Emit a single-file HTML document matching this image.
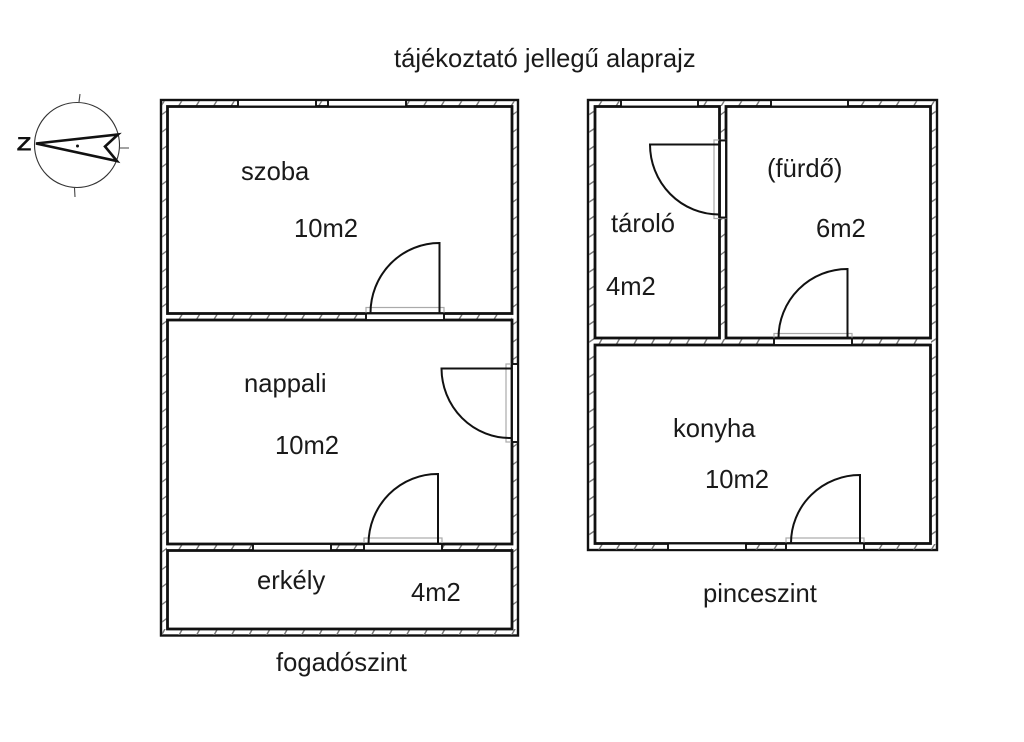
<!DOCTYPE html>
<html>
<head>
<meta charset="utf-8">
<style>
html,body{margin:0;padding:0;background:#fff;}
svg{display:block;}
text{font-family:"Liberation Sans",sans-serif;font-size:25.6px;fill:#1a1a1a;}
.room{fill:#fff;stroke:#111;stroke-width:2.8;}
.outer{stroke:#111;stroke-width:2.4;fill:#fff;}
.win{fill:#fff;stroke:#111;stroke-width:1.9;}
.gray{fill:none;stroke:#aaa;stroke-width:1.2;}
.door{fill:none;stroke:#111;stroke-width:2;}
</style>
</head>
<body>
<svg width="1024" height="742" viewBox="0 0 1024 742" xmlns="http://www.w3.org/2000/svg">
<defs>
<pattern id="hh" width="17.5" height="742" patternUnits="userSpaceOnUse">
<path d="M3 107L8 99M3 321L8 313M3 551L8 543M3 637L8 628M3 346L8 337" stroke="#777" stroke-width="1.4" fill="none"/>
</pattern>
<pattern id="hv" width="1024" height="17.5" patternUnits="userSpaceOnUse">
<path d="M160 11L168 5M511 11L519 5M587 11L596 5M719 11L727 5M929 11L938 5" stroke="#777" stroke-width="1.4" fill="none"/>
</pattern>
</defs>
<rect width="1024" height="742" fill="#fff"/>

<!-- left building -->
<rect class="outer" x="161" y="100" width="357" height="535.5"/>
<rect x="162" y="101" width="355" height="5" fill="url(#hh)"/>
<rect x="168" y="314" width="344" height="6" fill="url(#hh)"/>
<rect x="168" y="544" width="344" height="6" fill="url(#hh)"/>
<rect x="162" y="629" width="355" height="6" fill="url(#hh)"/>
<rect x="162" y="107" width="5" height="522" fill="url(#hv)"/>
<rect x="513" y="107" width="4" height="522" fill="url(#hv)"/>
<rect class="room" x="167.5" y="106.5" width="344.5" height="207"/>
<rect class="room" x="167.5" y="320" width="344.5" height="224"/>
<rect class="room" x="167.5" y="550.5" width="344.5" height="78.5"/>
<!-- windows -->
<rect class="win" x="238" y="100" width="78" height="6.5"/>
<rect class="win" x="328" y="100" width="78" height="6.5"/>
<rect class="win" x="253" y="544" width="78" height="6.5"/>
<!-- szoba door -->
<rect class="gray" x="366" y="307.5" width="78" height="12"/>
<rect class="win" x="366" y="313.5" width="78" height="6.5"/>
<path class="door" d="M370.500 313A69 70 0 0 1 439.500 243V313"/>
<!-- nappali bottom door -->
<rect class="gray" x="364" y="538" width="78" height="12"/>
<rect class="win" x="364" y="544" width="78" height="6.500"/>
<path class="door" d="M368.500 544A69 70 0 0 1 438 474V544"/>
<!-- nappali right door -->
<rect class="gray" x="506" y="364" width="12" height="78"/>
<rect class="win" x="512" y="364" width="6" height="78"/>
<path class="door" d="M511 368.500H441.500A69 70 0 0 0 511 438"/>

<!-- right building -->
<rect class="outer" x="588" y="100" width="349" height="450"/>
<rect x="589" y="101" width="347" height="5" fill="url(#hh)"/>
<rect x="589" y="544" width="347" height="5.500" fill="url(#hh)"/>
<rect x="589" y="107" width="5" height="437" fill="url(#hv)"/>
<rect x="931" y="107" width="5" height="437" fill="url(#hv)"/>
<rect x="720" y="107" width="6" height="231" fill="url(#hv)"/>
<rect x="595" y="339" width="335" height="6" fill="url(#hh)"/>
<rect class="room" x="595" y="106.500" width="124.500" height="231.500"/>
<rect class="room" x="726" y="106.500" width="204.500" height="231.500"/>
<rect class="room" x="595" y="345" width="335.500" height="198.500"/>
<!-- windows -->
<rect class="win" x="621" y="100" width="77" height="6.500"/>
<rect class="win" x="771" y="100" width="77" height="6.500"/>
<rect class="win" x="668" y="543.500" width="78" height="6.500"/>
<!-- tároló door -->
<rect class="gray" x="714" y="140" width="12" height="78.500"/>
<rect class="win" x="720" y="140.500" width="6" height="77"/>
<path class="door" d="M719 144.500H650A69 70 0 0 0 719 214.500"/>
<!-- fürdő door -->
<rect class="gray" x="774" y="333.500" width="78" height="11.500"/>
<rect class="win" x="774" y="338.500" width="78" height="6.500"/>
<path class="door" d="M778.500 338A69 69 0 0 1 847.500 269V338"/>
<!-- konyha door -->
<rect class="gray" x="786" y="538" width="78" height="12"/>
<rect class="win" x="786" y="543.500" width="78" height="6.500"/>
<path class="door" d="M791 543A69 68 0 0 1 860 475V543"/>

<!-- compass -->
<circle cx="77" cy="145" r="42.500" fill="none" stroke="#333" stroke-width="1.100"/>
<path d="M80 94L79 102M119 148H129M74.500 188L75 197" stroke="#444" stroke-width="1.100" fill="none"/>
<path d="M36 143.500L118 134.500L105 146.500L117 161Z" fill="none" stroke="#111" stroke-width="2.600" stroke-linejoin="miter"/>
<circle cx="77.500" cy="146" r="1.500" fill="#111"/>
<text transform="translate(16.500 150.500) scale(1.3 1)" style="font-size:19px;font-weight:bold;fill:#111">Z</text>

<!-- labels -->
<text x="394" y="67">tájékoztató jellegű alaprajz</text>
<text x="241" y="180">szoba</text>
<text x="294" y="237">10m2</text>
<text x="244" y="392">nappali</text>
<text x="275" y="454">10m2</text>
<text x="257" y="589">erkély</text>
<text x="411" y="601">4m2</text>
<text x="276" y="671">fogadószint</text>
<text x="611" y="232">tároló</text>
<text x="606" y="295">4m2</text>
<text x="767" y="177">(fürdő)</text>
<text x="816" y="237">6m2</text>
<text x="673" y="437">konyha</text>
<text x="705" y="488">10m2</text>
<text x="703" y="602">pinceszint</text>
</svg>
</body>
</html>
